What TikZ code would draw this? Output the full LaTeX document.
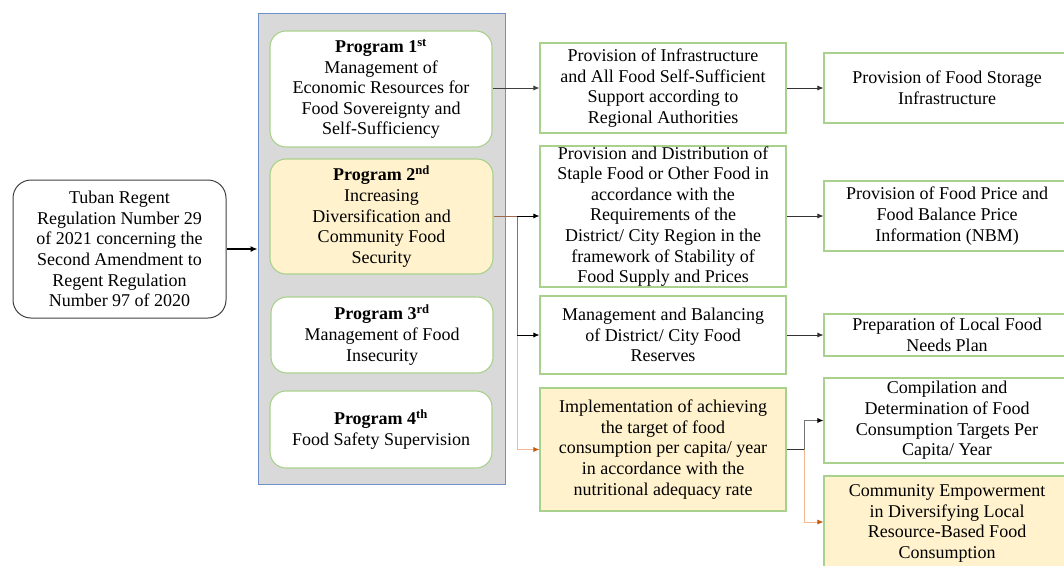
\documentclass[tikz,border=0pt]{standalone}
\usepackage{fontspec}
\setmainfont{Liberation Serif}
\usetikzlibrary{arrows.meta}
\definecolor{gborder}{HTML}{A9D18E}
\definecolor{yfill}{HTML}{FFF2CC}
\definecolor{panelfill}{HTML}{D9D9D9}
\definecolor{panelborder}{HTML}{6F8FC9}
\definecolor{brownline}{HTML}{9E6B4F}
\definecolor{orangearrow}{HTML}{C55A11}
\definecolor{lightorange}{HTML}{F0B894}
\tikzset{
  txt/.style={align=center, inner sep=0pt, font=\fontsize{18}{20.6}\selectfont},
  gbox/.style={txt, draw=gborder, line width=1.1pt},
  rbox/.style={gbox, rounded corners=16pt},
  conn/.style={line width=0.8pt, -{Latex[length=6pt,width=5pt]}},
}
\begin{document}
\begin{tikzpicture}[x=1pt,y=-1pt]
\useasboundingbox (0,0) rectangle (1064,565);
\clip (0,0) rectangle (1064,565);
% left box
\node[txt, draw=black!75, line width=1pt, rounded corners=18pt, minimum width=213pt, minimum height=138pt] (L) at (119.5,249)
 {Tuban Regent\\Regulation Number 29\\of 2021 concerning the\\Second Amendment to\\Regent Regulation\\Number 97 of 2020};
% panel
\node[draw=panelborder, fill=panelfill, line width=0.8pt, minimum width=247pt, minimum height=471pt, inner sep=0pt] (panel) at (381.5,248.5) {};
\draw[line width=1.8pt, -{Latex[length=7pt,width=6pt]}] (L.east) -- (L.east -| panel.west);
% programs
\node[rbox, fill=white, minimum width=222pt, minimum height=116pt] (P1) at (381,89)
 {\textbf{Program 1\textsuperscript{st}}\\Management of\\Economic Resources for\\Food Sovereignty and\\Self-Sufficiency};
\node[rbox, fill=yfill, minimum width=223pt, minimum height=115pt] (P2) at (381.5,216.5)
 {\textbf{Program 2\textsuperscript{nd}}\\Increasing\\Diversification and\\Community Food\\Security};
\node[rbox, fill=white, minimum width=222pt, minimum height=76pt] (P3) at (382,335)
 {\textbf{Program 3\textsuperscript{rd}}\\Management of Food\\Insecurity};
\node[rbox, fill=white, minimum width=222pt, minimum height=77pt] (P4) at (381,429.5)
 {\textbf{Program 4\textsuperscript{th}}\\Food Safety Supervision};
% middle column
\node[gbox, fill=white, minimum width=246pt, minimum height=90pt] (M1) at (663,88)
 {Provision of Infrastructure\\and All Food Self-Sufficient\\Support according to\\Regional Authorities};
\node[gbox, fill=white, minimum width=246pt, minimum height=141pt] (M2) at (663,216.5)
 {Provision and Distribution of\\Staple Food or Other Food in\\accordance with the\\Requirements of the\\District/ City Region in the\\framework of Stability of\\Food Supply and Prices};
\node[gbox, fill=white, minimum width=246pt, minimum height=78pt] (M3) at (663,335)
 {Management and Balancing\\of District/ City Food\\Reserves};
\node[gbox, fill=yfill, minimum width=246pt, minimum height=123pt] (M4) at (663,449.5)
 {Implementation of achieving\\the target of food\\consumption per capita/ year\\in accordance with the\\nutritional adequacy rate};
% right column
\node[gbox, fill=white, minimum width=246pt, minimum height=70pt] (R1) at (947,88)
 {Provision of Food Storage\\Infrastructure};
\node[gbox, fill=white, minimum width=246pt, minimum height=70pt] (R2) at (947,216)
 {Provision of Food Price and\\Food Balance Price\\Information (NBM)};
\node[gbox, fill=white, minimum width=246pt, minimum height=42pt] (R3) at (947,335)
 {Preparation of Local Food\\Needs Plan};
\node[gbox, fill=white, minimum width=246pt, minimum height=85pt] (R4) at (947,420.5)
 {Compilation and\\Determination of Food\\Consumption Targets Per\\Capita/ Year};
\node[gbox, fill=yfill, minimum width=246pt, minimum height=95pt] (R5) at (947,523.5)
 {Community Empowerment\\in Diversifying Local\\Resource-Based Food\\Consumption};
% connectors
\coordinate (J) at (517,216);
\coordinate (K) at (804,449.5);
\draw[conn, black!75] (P1.east |- M1.west) -- (M1.west);
\draw[conn, lightorange, arrows={-{Latex[length=6pt,width=5pt,fill=orangearrow,color=orangearrow]}}] (J) |- (M4.west);
\draw[line width=0.8pt, brownline] (P2.east |- J) -- (J) -- (J |- M3.west);
\draw[conn, black] (J |- M3.west) -- (M3.west);
\draw[conn, black] (J) -- (M2.west |- J);
\draw[conn, black!80] (M1.east) -- (M1.east -| R1.west);
\draw[conn, black!80] (M2.east |- R2.west) -- (R2.west);
\draw[conn, black!80] (M3.east) -- (R3.west);
\draw[line width=0.8pt, black!80] (M4.east) -- (K);
\draw[conn, black!55, arrows={-{Latex[length=6pt,width=5pt,fill=black,color=black]}}] (K) |- (R4.west);
\draw[conn, lightorange, arrows={-{Latex[length=6pt,width=5pt,fill=orangearrow,color=orangearrow]}}] (K) |- (R5.west |- K |- 0,522);
\end{tikzpicture}
\end{document}
